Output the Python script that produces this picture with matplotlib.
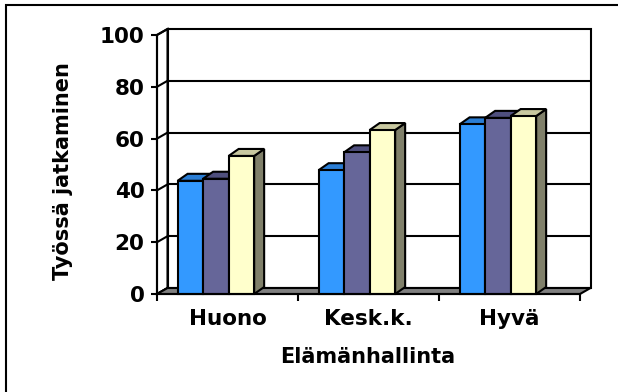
import matplotlib
matplotlib.use("Agg")
import matplotlib.pyplot as plt
from matplotlib.patches import Polygon, Rectangle

# Chart data
categories = ["Huono", "Kesk.k.", "Hyvä"]
series_1 = [43.7, 47.8, 65.5]
series_2 = [44.5, 54.7, 68.0]
series_3 = [53.3, 63.3, 68.7]
y_ticks = [0, 20, 40, 60, 80, 100]

front_colors = ["#3399FF", "#666699", "#FFFFCC"]
top_colors = ["#2A7DD4", "#4F4F7E", "#C8C8A0"]
side_colors = ["#1E5A96", "#3C3C5C", "#80806A"]

W, H, DPI = 618, 392, 100
fig = plt.figure(figsize=(W / DPI, H / DPI), dpi=DPI)
fig.patch.set_facecolor("white")

# Front plane of the plot area, in pixels
left_px, right_px, bottom_px, top_px = 157, 580, 294, 35
ax = fig.add_axes([left_px / W, 1 - bottom_px / H,
                   (right_px - left_px) / W, (bottom_px - top_px) / H])
ax.set_xlim(0, 3)
ax.set_ylim(0, 100)
ax.set_facecolor("none")

# pixel -> data conversions for the depth offsets
px_x = 3 / (right_px - left_px)
px_y = 100 / (bottom_px - top_px)
wall_dx, wall_dy = 10.5 * px_x, 6 * px_y
bar_dx, bar_dy = 10 * px_x, 7 * px_y

LW = 1.5
FS = 15.5
ymax = y_ticks[-1]

def poly(pts, fc, z, lw=LW):
    ax.add_patch(Polygon(pts, closed=True, facecolor=fc, edgecolor="black",
                         linewidth=lw, joinstyle="miter", clip_on=False, zorder=z))

# back wall
poly([(wall_dx, wall_dy), (3 + wall_dx, wall_dy),
      (3 + wall_dx, ymax + wall_dy), (wall_dx, ymax + wall_dy)], "white", 1)
# left side wall
poly([(0, 0), (wall_dx, wall_dy), (wall_dx, ymax + wall_dy), (0, ymax)], "white", 1)

# gridlines on the back wall and the side wall
for v in y_ticks[1:-1]:
    ax.plot([wall_dx, 3 + wall_dx], [v + wall_dy, v + wall_dy], color="black",
            linewidth=LW, clip_on=False, zorder=2, solid_capstyle="butt")
for v in y_ticks:
    ax.plot([0, wall_dx], [v, v + wall_dy], color="black",
            linewidth=LW, clip_on=False, zorder=2, solid_capstyle="butt")

# floor
poly([(0, 0), (3, 0), (3 + wall_dx, wall_dy), (wall_dx, wall_dy)], "#808080", 3)

# 3D columns
bar_w = 0.181
group_start = 0.146
all_series = [series_1, series_2, series_3]
z = 4
for gi in range(len(categories)):
    for si, series in enumerate(all_series):
        v = series[gi]
        x0 = gi + group_start + si * bar_w
        x1 = x0 + bar_w
        poly([(x1, 0), (x1 + bar_dx, bar_dy), (x1 + bar_dx, v + bar_dy), (x1, v)],
             side_colors[si], z)
        poly([(x0, v), (x1, v), (x1 + bar_dx, v + bar_dy), (x0 + bar_dx, v + bar_dy)],
             top_colors[si], z)
        poly([(x0, 0), (x1, 0), (x1, v), (x0, v)], front_colors[si], z + 0.5)
        z += 1

# axes lines and ticks
for s in ["top", "right"]:
    ax.spines[s].set_visible(False)
for s in ["left", "bottom"]:
    ax.spines[s].set_linewidth(LW)
    ax.spines[s].set_zorder(50)

ax.set_yticks(y_ticks)
ax.set_yticklabels([str(t) for t in y_ticks])
ax.tick_params(axis="y", direction="out", length=4, width=LW, pad=5,
               labelsize=FS)
ax.set_xticks([0, 1, 2, 3])
ax.set_xticklabels([])
ax.set_xticks([0.5, 1.5, 2.5], minor=True)
ax.set_xticklabels(categories, minor=True)
ax.tick_params(axis="x", which="major", direction="out", length=5, width=LW)
ax.tick_params(axis="x", which="minor", length=0, pad=11, labelsize=FS)
for lab in ax.get_yticklabels() + ax.get_xticklabels(minor=True):
    lab.set_fontweight("bold")

fig.text(368 / W, 1 - 357 / H, "Elämänhallinta", ha="center", va="center",
         fontsize=FS - 0.5, fontweight="bold")
fig.text(63 / W, 1 - 171 / H, "Työssä jatkaminen", ha="center", va="center",
         rotation=90, fontsize=FS - 0.5, fontweight="bold")

# chart area border
fig.patches.append(Rectangle((6 / W, -0.1), 1.2, 1 - 5 / H + 0.1,
                             transform=fig.transFigure, fill=False,
                             edgecolor="black", linewidth=LW))

fig.savefig("out.png", dpi=DPI)
